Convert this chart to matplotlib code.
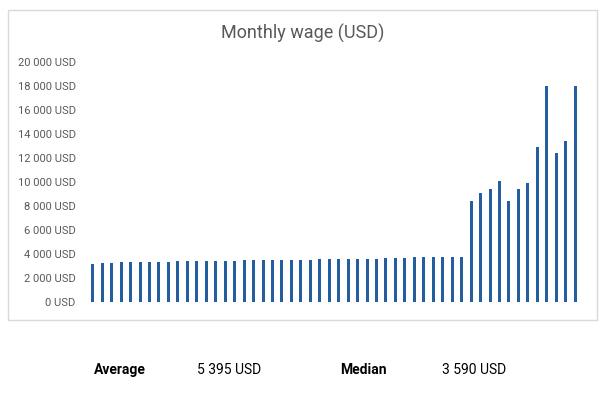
import matplotlib.pyplot as plt
from matplotlib.patches import Rectangle

plt.rcParams['font.family'] = ['Roboto', 'DejaVu Sans']

# monthly wages, 52 employees
low_wages = [3200, 3250, 3260, 3300, 3310, 3310, 3320, 3320, 3360, 3410,
             3420, 3420, 3420, 3430, 3430, 3440, 3460, 3480, 3480, 3490,
             3490, 3530, 3540, 3540, 3550, 3580, 3600, 3610, 3610, 3620,
             3620, 3660, 3670, 3680, 3720, 3720, 3730, 3740, 3740, 3760]
high_wages = [8400, 9100, 9400, 10100, 8400, 9400, 9900, 12900, 18000,
              12400, 13400, 18000]
wages = low_wages + high_wages
yticks = list(range(0, 20001, 2000))
average_text = '5 395 USD'
median_text = '3 590 USD'

fig = plt.figure(figsize=(6.05, 3.95), dpi=100)
fig.patches.append(Rectangle((0.0132, 0.19), 0.9736, 0.785, transform=fig.transFigure,
                             fill=False, edgecolor='#d9d9d9', linewidth=1))

ax = fig.add_axes([0.1455, 0.2354, 0.813, 0.6076])
ax.bar(range(len(wages)), wages, width=0.32, color='#235ea0')
ax.set_xlim(-0.5, len(wages) - 0.5)
ax.set_ylim(0, 20000)
ax.set_yticks(yticks)
ax.set_yticklabels([f'{v:,}'.replace(',', ' ') + ' USD' for v in yticks],
                   fontsize=8, color='#595959')
ax.tick_params(axis='y', length=0, pad=9)
ax.set_xticks([])
for s in ax.spines.values():
    s.set_visible(False)

fig.text(0.5, 0.916, 'Monthly wage (USD)', ha='center', va='center',
         fontsize=13, color='#595959')

fig.text(94 / 605, 1 - 370 / 395, 'Average', fontsize=10, fontweight='bold', va='center')
fig.text(197 / 605, 1 - 370 / 395, average_text, fontsize=10, va='center')
fig.text(340 / 605, 1 - 370 / 395, 'Median', fontsize=10, fontweight='bold', va='center')
fig.text(442 / 605, 1 - 370 / 395, median_text, fontsize=10, va='center')

fig.savefig('out.png', dpi=100)
